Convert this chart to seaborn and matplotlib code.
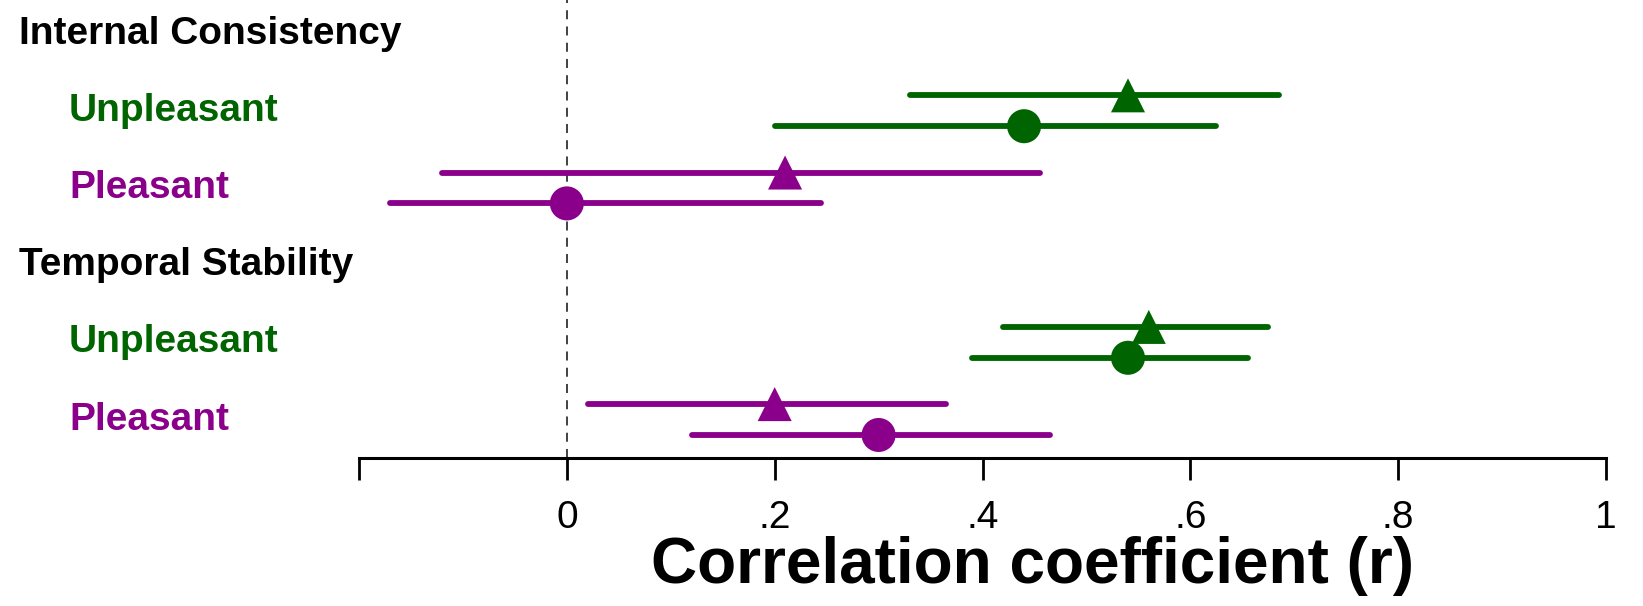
import pandas as pd
import seaborn as sns
import matplotlib.pyplot as plt
import matplotlib.transforms as mtransforms

# Data
groups = ["Internal Consistency", "Internal Consistency", "Internal Consistency", "Internal Consistency",
          "Temporal Stability", "Temporal Stability", "Temporal Stability", "Temporal Stability"]
valence = ["Unpleasant", "Unpleasant", "Pleasant", "Pleasant",
           "Unpleasant", "Unpleasant", "Pleasant", "Pleasant"]
measure = ["triangle", "circle", "triangle", "circle",
           "triangle", "circle", "triangle", "circle"]
r_value = [0.54, 0.44, 0.21, 0.00, 0.56, 0.54, 0.20, 0.30]
ci_low = [0.33, 0.20, -0.12, -0.17, 0.42, 0.39, 0.02, 0.12]
ci_high = [0.685, 0.625, 0.455, 0.245, 0.675, 0.655, 0.365, 0.465]

row_labels = ["Internal Consistency", "Unpleasant", "Pleasant",
              "Temporal Stability", "Unpleasant", "Pleasant"]
x_ticks = [-0.2, 0, 0.2, 0.4, 0.6, 0.8, 1.0]
x_ticklabels = ["", "0", ".2", ".4", ".6", ".8", "1"]

colors = {"Unpleasant": "#006400", "Pleasant": "#8B008B"}

df = pd.DataFrame({"group": groups, "valence": valence, "measure": measure,
                   "r": r_value, "lo": ci_low, "hi": ci_high})
row_of = {("Internal Consistency", "Unpleasant"): 1, ("Internal Consistency", "Pleasant"): 2,
          ("Temporal Stability", "Unpleasant"): 4, ("Temporal Stability", "Pleasant"): 5}
df["y"] = [row_of[(g, v)] + (-0.2 if m == "triangle" else 0.2)
           for g, v, m in zip(df["group"], df["valence"], df["measure"])]

sns.set_style("white")
plt.rcParams["font.family"] = ["Liberation Sans", "DejaVu Sans"]

fig = plt.figure(figsize=(16.43, 6.06), dpi=100)
ax = fig.add_axes([0.2185, 0.244, 0.759, 0.756])

ax.axvline(0, color="#333333", lw=1.3, ls=(0, (5, 4)), zorder=0)

for v, sub in df.groupby("valence"):
    ax.hlines(sub["y"], sub["lo"], sub["hi"], color=colors[v], lw=4.2,
              capstyle="round", zorder=1)

sns.scatterplot(data=df, x="r", y="y", hue="valence", style="measure",
                palette=colors, markers={"triangle": "^", "circle": "o"},
                s=600, linewidth=0, legend=False, ax=ax, zorder=2)

ax.set_xlim(-0.2, 1.0)
ax.set_ylim(5.5, -0.435)
ax.set_xticks(x_ticks)
ax.set_xticklabels(x_ticklabels, fontsize=28, color="black")
ax.set_yticks([])
ax.set_ylabel("")
ax.set_xlabel("Correlation coefficient (r)", fontsize=46, fontweight="bold",
              color="black", labelpad=0)
ax.xaxis.label.set_x(0.54)
ax.tick_params(axis="x", direction="out", length=16, width=2, pad=14, bottom=True,
               color="black")
for s in ["left", "right", "top"]:
    ax.spines[s].set_visible(False)
ax.spines["bottom"].set_linewidth(2.2)
ax.spines["bottom"].set_color("black")

trans = mtransforms.blended_transform_factory(fig.transFigure, ax.transData)
for i, lab in enumerate(row_labels):
    if lab in colors:
        ax.text(0.042, i, lab, transform=trans, color=colors[lab], fontsize=28,
                fontweight="bold", va="center", ha="left", clip_on=False)
    else:
        ax.text(0.0115, i, lab, transform=trans, color="black", fontsize=28,
                fontweight="bold", va="center", ha="left", clip_on=False)

fig.savefig("out.png", dpi=100)
